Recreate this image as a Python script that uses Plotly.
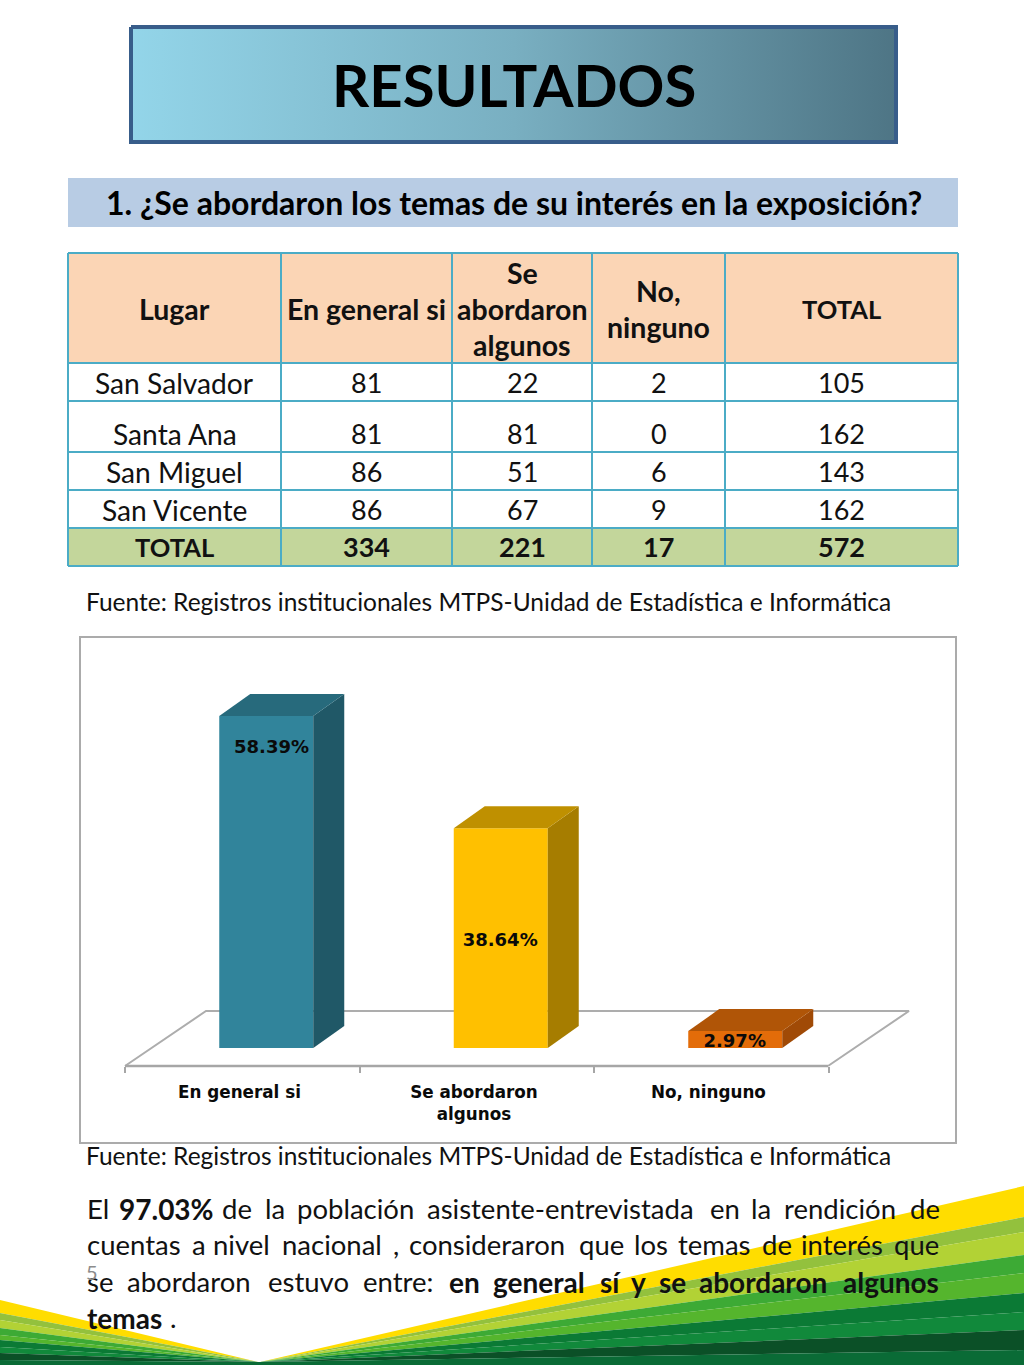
"""Rebuild the RESULTADOS slide: survey table, 3D-look bar chart and closing paragraph."""
import plotly.graph_objects as go

PAGE_W, PAGE_H = 1024, 1365
BODY_FONT = "Lato"
CHART_FONT = "DejaVu Sans"

# table
table_header = ["Lugar", "En general si", "Se<br>abordaron<br>algunos", "No,<br>ninguno", "TOTAL"]
places = ["San Salvador", "Santa Ana", "San Miguel", "San Vicente"]
en_general = [81, 81, 86, 86]
algunos = [22, 81, 51, 67]
ninguno = [2, 0, 6, 9]
row_totals = [105, 162, 143, 162]
table_totals = ["TOTAL", 334, 221, 17, 572]

# chart
categories = ["En general si", "Se abordaron<br>algunos", "No, ninguno"]
percentages = [58.39, 38.64, 2.97]
label_heights = [52.7, 18.7, 1.0]
label_shifts = [0.125, 0.1, 0.1]
front_colors = ["#31849B", "#FFC000", "#E36C09"]
side_colors = ["#205867", "#A67D00", "#A04A06"]
top_colors = ["#276A7C", "#BF9000", "#B05507"]

source_text = "Fuente: Registros institucionales MTPS-Unidad de Estadística e Informática"

# paragraph words: (text, left edge, bold)
paragraph = [
    (1210, [("El", 87, 0), ("97.03%", 119, 1), ("de", 222, 0), ("la", 265, 0), ("población", 297, 0),
            ("asistente-entrevistada", 427, 0), ("en", 710, 0), ("la", 751, 0), ("rendición", 784, 0), ("de", 910, 0)]),
    (1246, [("cuentas", 87, 0), ("a", 192, 0), ("nivel", 213, 0), ("nacional", 282, 0), (",", 393, 0),
            ("consideraron", 409, 0), ("que", 579, 0), ("los", 634, 0), ("temas", 678, 0), ("de", 762, 0),
            ("interés", 801, 0), ("que", 894, 0)]),
    (1283, [("se", 87, 0), ("abordaron", 127, 0), ("estuvo", 268, 0), ("entre:", 363, 0), ("en", 449, 1),
            ("general", 493, 1), ("sí", 600, 1), ("y", 631, 1), ("se", 659, 1), ("abordaron", 699, 1), ("algunos", 843, 1)]),
    (1319, [("temas", 87, 1), (".", 170, 0)]),
]

# footer fan, read at the two slide edges
fan_colors = ["#FFDD00", "#93C13D", "#B2D235", "#3DAA35", "#55B52D", "#0B7A35", "#11893B", "#0B5027", "#0A6B36"]
fan_left = [1300, 1313, 1320, 1328, 1335, 1340, 1347, 1353, 1360, 1365]
fan_right = [1186, 1217, 1232, 1255, 1273, 1293, 1312, 1330, 1350, 1365]
FAN_APEX_Y = 1362

col_edges = [68, 281, 452, 592, 725, 958]
row_edges = [253, 363, 401, 452, 490, 528, 566]
row_text_y = [384, 435, 473, 511, 548]
LINE_STEP = 36

# chart geometry in slide pixels
PX_PER_CAT = 234.5
PX_PER_PCT = 5.686
FLOOR_LEFT, FLOOR_RIGHT, FLOOR_FRONT, FLOOR_BACK, FLOOR_SHIFT = 125, 828, 1066, 1011, 81
PLOT_LEFT, PLOT_RIGHT, PLOT_TOP, BASE_Y = 120, 925, 640, 1048
BAR_WIDTH = 94 / PX_PER_CAT
BAR_OFFSET = (219 - 242) / PX_PER_CAT
DEPTH_X = 31 / PX_PER_CAT
DEPTH_Y = 22 / PX_PER_PCT

fig = go.Figure()
shapes = []
notes = []


def rect(x0, y0, x1, y1, fill, line=None, width=0):
    shapes.append(dict(type="rect", xref="x", yref="y", x0=x0, y0=y0, x1=x1, y1=y1, fillcolor=fill,
                       line=dict(color=line or fill, width=width), layer="below"))


def note(text, x, y, size, bold=False, anchor="center", color="#111111"):
    # annotation boxes sit a little low and right of the requested spot
    x_fix = -2 if anchor == "left" else 0
    notes.append(dict(text=f"<b>{text}</b>" if bold else text, x=x + x_fix, y=y - 1.5, xref="x", yref="y", showarrow=False,
                      xanchor=anchor, yanchor="middle", font=dict(family=BODY_FONT, size=size, color=color)))


# footer
for i, color in enumerate(fan_colors):
    for edge_x, edge, apex in ((0, fan_left, 258), (PAGE_W, fan_right, 260)):
        path = f"M {apex} {FAN_APEX_Y} L {edge_x} {edge[i]} L {edge_x} {edge[i + 1]} Z"
        shapes.append(dict(type="path", xref="x", yref="y", path=path, fillcolor=color, line=dict(width=0), layer="below"))
rect(0, FAN_APEX_Y, PAGE_W, PAGE_H, fan_colors[-1])

# title box
fig.add_trace(go.Scatter(
    x=[131, 896, 896, 131, 131], y=[27, 27, 142, 142, 27], mode="lines", fill="toself",
    line=dict(color="#385D8A", width=4), hoverinfo="skip",
    fillgradient=dict(type="horizontal", colorscale=[[0, "#93D5E9"], [0.5, "#79AFC1"], [1, "#4E7585"]]),
))
note("RESULTADOS", 514, 86, 58, bold=True, color="#000000")

# question band
rect(68, 178, 958, 227, "#B8CCE4")
note("1. ¿Se abordaron los temas de su interés en la exposición?", 514, 204, 32, bold=True, color="#000000")

# table
rect(col_edges[0], row_edges[0], col_edges[-1], row_edges[1], "#FBD5B5")
rect(col_edges[0], row_edges[-2], col_edges[-1], row_edges[-1], "#C3D69B")
for x in col_edges:
    shapes.append(dict(type="line", xref="x", yref="y", x0=x, x1=x, y0=row_edges[0], y1=row_edges[-1],
                       line=dict(color="#4BACC6", width=2), layer="below"))
for y in row_edges:
    shapes.append(dict(type="line", xref="x", yref="y", x0=col_edges[0], x1=col_edges[-1], y0=y, y1=y,
                       line=dict(color="#4BACC6", width=2), layer="below"))

col_centers = [(a + b) / 2 for a, b in zip(col_edges, col_edges[1:])]
header_mid = 310
for cx, label in zip(col_centers, table_header):
    lines = label.split("<br>")
    size = 25.5 if label.isupper() else 28.5
    for n, part in enumerate(lines):
        note(part, cx, header_mid + (n - (len(lines) - 1) / 2) * LINE_STEP, size, bold=True)

rows = list(zip(places, en_general, algunos, ninguno, row_totals))
for y, row in zip(row_text_y, rows):
    for cx, value in zip(col_centers, row):
        note(value, cx, y, 28.2 if isinstance(value, str) else 27)
for cx, value in zip(col_centers, table_totals):
    note(value, cx, row_text_y[-1], 25.5 if isinstance(value, str) else 27, bold=True)

# sources
note(source_text, 86, 603, 24.5, anchor="left")
note(source_text, 86, 1157, 24.5, anchor="left")

# chart frame and floor
rect(80, 637, 956, 1143, "#FFFFFF", line="#ABABAB", width=2)
fig.add_trace(go.Scatter(
    x=[FLOOR_LEFT, FLOOR_LEFT + FLOOR_SHIFT, FLOOR_RIGHT + FLOOR_SHIFT, FLOOR_RIGHT],
    y=[FLOOR_FRONT, FLOOR_BACK, FLOOR_BACK, FLOOR_FRONT],
    mode="lines", line=dict(color="#ADADAD", width=2), hoverinfo="skip",
))
fig.add_trace(go.Scatter(
    x=[FLOOR_LEFT, FLOOR_RIGHT], y=[FLOOR_FRONT, FLOOR_FRONT],
    mode="lines", line=dict(color="#A6A6A6", width=2.5), hoverinfo="skip",
))

# bars: front faces come from a real bar trace, the depth faces follow the same values
positions = list(range(len(categories)))
fig.add_trace(go.Bar(
    x=positions, y=percentages, width=BAR_WIDTH, offset=BAR_OFFSET, marker=dict(color=front_colors, line=dict(width=0)),
    xaxis="x2", yaxis="y2", hoverinfo="skip",
))
for pos, value, side, top in zip(positions, percentages, side_colors, top_colors):
    left = pos + BAR_OFFSET
    right = left + BAR_WIDTH
    fig.add_trace(go.Scatter(
        x=[right, right + DEPTH_X, right + DEPTH_X, right, right],
        y=[0, DEPTH_Y, value + DEPTH_Y, value, 0],
        mode="lines", fill="toself", fillcolor=side, line=dict(width=0), xaxis="x2", yaxis="y2", hoverinfo="skip",
    ))
    fig.add_trace(go.Scatter(
        x=[left, left + DEPTH_X, right + DEPTH_X, right, left],
        y=[value, value + DEPTH_Y, value + DEPTH_Y, value, value],
        mode="lines", fill="toself", fillcolor=top, line=dict(width=0), xaxis="x2", yaxis="y2", hoverinfo="skip",
    ))
fig.add_trace(go.Scatter(
    x=[p + s for p, s in zip(positions, label_shifts)], y=label_heights, mode="text",
    text=[f"<b>{v:.2f}%</b>" for v in percentages],
    textfont=dict(family=CHART_FONT, size=18, color="#0A0A0A"), textposition="middle center",
    xaxis="x2", yaxis="y2", hoverinfo="skip",
))

# paragraph and page number
for y, words in paragraph:
    for word, x, bold in words:
        note(word, x, y, 28 if bold else 27.5, bold=bool(bold), anchor="left")
note("5", 92, 1273, 20, anchor="center", color="#8C8C8C")

fig.update_layout(
    width=PAGE_W, height=PAGE_H, margin=dict(l=0, r=0, t=0, b=0), autosize=False,
    paper_bgcolor="#FFFFFF", plot_bgcolor="rgba(0,0,0,0)", showlegend=False, hovermode=False,
    shapes=shapes, annotations=notes,
    xaxis=dict(domain=[0, 1], range=[0, PAGE_W], visible=False, fixedrange=True),
    yaxis=dict(domain=[0, 1], range=[PAGE_H, 0], visible=False, fixedrange=True),
    xaxis2=dict(
        domain=[PLOT_LEFT / PAGE_W, PLOT_RIGHT / PAGE_W], anchor="y2", showgrid=False, zeroline=False,
        range=[-0.5 + (PLOT_LEFT - FLOOR_LEFT) / PX_PER_CAT, -0.5 + (PLOT_RIGHT - FLOOR_LEFT) / PX_PER_CAT],
        tickmode="array", tickvals=[p - 0.012 for p in positions], ticktext=categories, ticks="", ticklabelstandoff=14,
        tickfont=dict(family=CHART_FONT, size=16.8, color="#0A0A0A", weight="bold"),
        minor=dict(tickmode="array", tickvals=[p - 0.5 for p in positions] + [positions[-1] + 0.5],
                   ticks="outside", ticklen=6, tickcolor="#A6A6A6", tickwidth=1.5, showgrid=False),
    ),
    yaxis2=dict(
        domain=[1 - FLOOR_FRONT / PAGE_H, 1 - PLOT_TOP / PAGE_H], anchor="x2", visible=False,
        range=[-(FLOOR_FRONT - BASE_Y) / PX_PER_PCT, (BASE_Y - PLOT_TOP) / PX_PER_PCT],
    ),
)

fig.write_html("out.html", config=dict(displayModeBar=False), post_script="document.body.style.margin='0'")
